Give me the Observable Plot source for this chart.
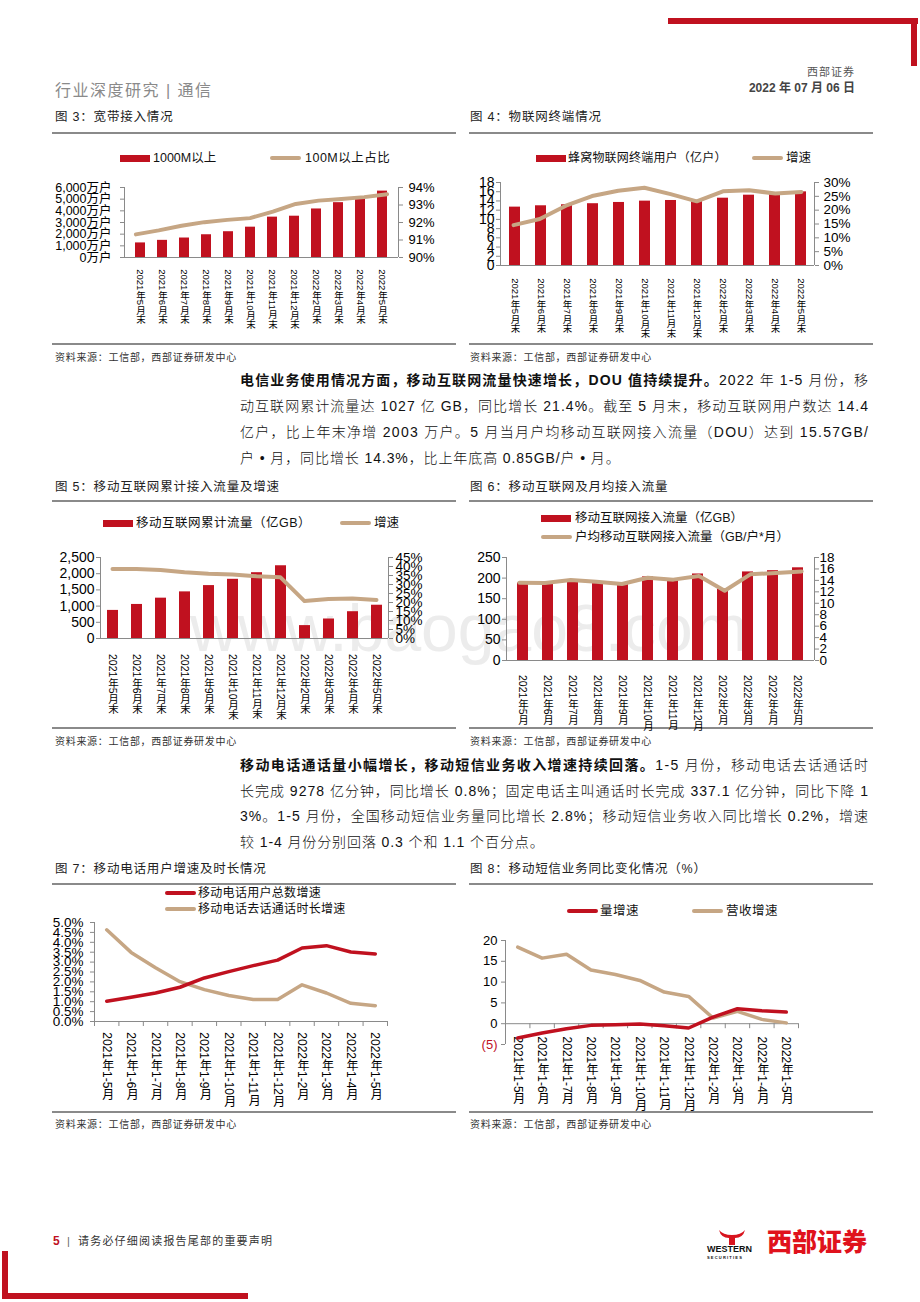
<!DOCTYPE html>
<html><head><meta charset="utf-8">
<script src="https://cdn.jsdelivr.net/npm/d3@7"></script>
<script src="https://cdn.jsdelivr.net/npm/@observablehq/plot@0.6"></script>
<style>
body{margin:0;background:#fff;}
#page{position:relative;width:920px;height:1302px;overflow:hidden;background:#fff;font-family:"Liberation Sans",Arial,"Noto Sans CJK SC",sans-serif;color:#111;}
.para{position:absolute;left:240px;font-size:14px;line-height:20px;white-space:nowrap;color:#111;font-weight:300;}
.para b{font-weight:700;}
</style></head>
<body><div id="page"></div>
<script>
// ---------------- data ----------------
const monthsEnd = ["2021年5月末","2021年6月末","2021年7月末","2021年8月末","2021年9月末","2021年10月末","2021年11月末","2021年12月末","2022年2月末","2022年3月末","2022年4月末","2022年5月末"];
const months = ["2021年5月","2021年6月","2021年7月","2021年8月","2021年9月","2021年10月","2021年11月","2021年12月","2022年2月","2022年3月","2022年4月","2022年5月"];
const periods = ["2021年1-5月","2021年1-6月","2021年1-7月","2021年1-8月","2021年1-9月","2021年1-10月","2021年1-11月","2021年1-12月","2022年1-2月","2022年1-3月","2022年1-4月","2022年1-5月"];

const gigabitUsers = [1250,1470,1670,1950,2210,2600,3460,3540,4160,4700,5160,5690];   // 万户
const share100M    = [91.32,91.55,91.81,92.02,92.15,92.25,92.62,93.06,93.25,93.34,93.45,93.62]; // %
const iotUsers     = [12.66,12.95,13.17,13.4,13.67,13.96,14.1,13.9,14.6,15.25,15.6,15.97]; // 亿户
const iotGrowth    = [14.6,16.8,21.6,25.1,27.0,28.1,25.8,23.2,26.8,27.2,26.0,26.6]; // %
const cumTraffic   = [867,1051,1245,1439,1633,1827,2031,2245,398,602,827,1027]; // 亿GB
const cumGrowth    = [38.6,38.6,38.0,36.8,36.0,35.5,34.6,34.0,20.8,21.9,22.2,21.4]; // %
const monthTraffic = [188,188,195,191,185,203,198,210,173,215,218,225]; // 亿GB
const dou          = [13.6,13.55,14.07,13.78,13.37,14.47,14.13,14.77,12.2,15.06,15.29,15.57]; // GB/户*月
const subsGrowth   = [1.02,1.22,1.44,1.73,2.2,2.52,2.82,3.1,3.71,3.83,3.51,3.41]; // %
const callGrowth   = [4.63,3.49,2.72,2.01,1.61,1.31,1.11,1.11,1.85,1.44,0.92,0.8]; // %
const smsVolume    = [-3.44,-2.24,-1.2,-0.4,-0.24,-0.08,-0.48,-1.04,1.6,3.6,3.1,2.8]; // %
const smsRevenue   = [18.4,15.76,16.7,12.9,11.84,10.4,7.6,6.56,1.36,2.96,1.04,0.2]; // %

const ticksUsers = [0,1000,2000,3000,4000,5000,6000];
const ticksShare = [90,91,92,93,94];
const ticksIot = [0,2,4,6,8,10,12,14,16,18];
const ticksIotG = [0,5,10,15,20,25,30];
const ticksCum = [0,500,1000,1500,2000,2500];
const ticksCumG = [0,5,10,15,20,25,30,35,40,45];
const ticksMonth = [0,50,100,150,200,250];
const ticksDou = [0,2,4,6,8,10,12,14,16,18];
const ticksPhone = [0,0.5,1,1.5,2,2.5,3,3.5,4,4.5,5];
const ticksSms = [0,5,10,15,20];
const ticksSmsNeg = [-5];

// ---------------- helpers ----------------
const RED = "#C0111F", TAN = "#C6A684", AXIS = "#8a8a8a";
const FONT = '"Liberation Sans", Arial, "Noto Sans CJK SC", sans-serif';
const page = document.getElementById("page");
function el(tag, css, html){ const e=document.createElement(tag); Object.assign(e.style, css); if(html!=null) e.innerHTML=html; page.appendChild(e); return e; }
function text(x, y, s, o={}){
  const size=o.size||12;
  const css={position:"absolute",top:(y-size*0.75)+"px",lineHeight:(size*1.5)+"px",fontSize:size+"px",color:o.color||"#111",
    fontWeight:o.weight||400,whiteSpace:"nowrap",letterSpacing:(o.ls||0)+"px",fontFamily:FONT};
  if(o.right) css.right=(920-x)+"px"; else css.left=x+"px";
  return el("div",css,s);
}
function rect(x1,y1,x2,y2,color,r){ return el("div",{position:"absolute",left:x1+"px",top:y1+"px",width:(x2-x1)+"px",height:(y2-y1)+"px",background:color,borderRadius:(r||0)+"px"}); }
function place(svg,left,top,z){ svg.style.position="absolute"; svg.style.left=left+"px"; svg.style.top=top+"px"; svg.style.zIndex=z||1; page.appendChild(svg); }
function vertical(svg, sel){
  svg.querySelectorAll(sel).forEach(g=>{
    g.removeAttribute("dy"); g.setAttribute("text-anchor","start");
    g.querySelectorAll("text").forEach(t=>{ t.removeAttribute("dy"); t.setAttribute("text-anchor","start");
      t.style.writingMode="vertical-rl"; t.style.textOrientation="mixed"; t.setAttribute("glyph-orientation-vertical","auto"); });
  });
}
function barSwatch(x,y){ rect(x,y-3.5,x+30,y+3.5,RED); }
function lineSwatch(x,y,c){ rect(x,y-2,x+31,y+2,c,2); }

// ---------------- page decoration ----------------
rect(668,18,918,24,RED);
rect(911,18,917,66,RED);
text(855,72,"西部证券",{size:11,color:"#555",right:true,ls:1});
text(855,88,"2022 年 07 月 06 日",{size:12,color:"#444",weight:700,right:true});
text(55,91,"行业深度研究 | 通信",{size:16,color:"#8a8a8a",ls:1.5});

// watermark
el("div",{position:"absolute",left:"190px",top:"588px",fontSize:"66px",lineHeight:"80px",color:"#ececec",fontFamily:FONT,zIndex:0,whiteSpace:"nowrap"},"www.baogao8.com");

// titles + rules + sources
[[55,117,"图 3：宽带接入情况"],[470,117,"图 4：物联网终端情况"],
 [55,487,"图 5：移动互联网累计接入流量及增速"],[470,487,"图 6：移动互联网及月均接入流量"],
 [55,869,"图 7：移动电话用户增速及时长情况"],[470,869,"图 8：移动短信业务同比变化情况（%）"]]
 .forEach(([x,y,s])=>text(x,y,s,{size:12.5,color:"#222",ls:0.8}));
[132,500,883,343,727,1111].forEach(y=>{ rect(52,y,456,y+1.5,"#8a8a8a"); rect(469,y,873,y+1.5,"#8a8a8a"); });
[357,741,1124].forEach(y=>{ text(55,y,"资料来源：工信部，西部证券研发中心",{size:10,color:"#333",ls:0.7}); text(470,y,"资料来源：工信部，西部证券研发中心",{size:10,color:"#333",ls:0.7}); });

// paragraphs (each line justified to 628px through letter spacing)
const p1 = [
 '<b>电信业务使用情况方面，移动互联网流量快速增长，DOU 值持续提升。</b>2022 年 1-5 月份，移',
 '动互联网累计流量达 1027 亿 GB，同比增长 21.4%。截至 5 月末，移动互联网用户数达 14.4',
 '亿户，比上年末净增 2003 万户。5 月当月户均移动互联网接入流量（DOU）达到 15.57GB/',
 '户 • 月，同比增长 14.3%，比上年底高 0.85GB/户 • 月。'];
const p2 = [
 '<b>移动电话通话量小幅增长，移动短信业务收入增速持续回落。</b>1-5 月份，移动电话去话通话时',
 '长完成 9278 亿分钟，同比增长 0.8%；固定电话主叫通话时长完成 337.1 亿分钟，同比下降 1',
 '3%。1-5 月份，全国移动短信业务量同比增长 2.8%；移动短信业务收入同比增长 0.2%，增速',
 '较 1-4 月份分别回落 0.3 个和 1.1 个百分点。'];
function paraLine(s, y, justify, extraLs){
  const d=el("div",{top:(y-10)+"px"},"<span>"+s+"</span>"); d.className="para";
  const sp=d.firstChild;
  if(justify){
    const w=sp.getBoundingClientRect().width, n=sp.textContent.length;
    d.style.letterSpacing=((628-w)/(n-1))+"px";
  } else d.style.letterSpacing=extraLs+"px";
}
let lsP1=0, lsP2=0;
p1.forEach((s,i)=>paraLine(s,380+26*i,i<3,0.9));
p2.forEach((s,i)=>paraLine(s,765+25.5*i,i<3,0.9));

// footer
text(53,1241,"5",{size:12,color:RED,weight:700});
text(67,1241,"|",{size:11,color:"#666"});
text(78,1241,"请务必仔细阅读报告尾部的重要声明",{size:11,color:"#333",ls:1.2});
rect(2,1251,8,1299,RED);
rect(2,1293,248,1299,RED);
el("div",{position:"absolute",left:"717px",top:"1229px",width:"30px",height:"16px"},
 '<svg width="30" height="16" viewBox="0 0 30 16"><path d="M2 1 Q4 9 12 9 L12 16 L18 16 L18 9 Q26 9 28 1 Q24 6 15 6 Q6 6 2 1Z" fill="#D8141E"/></svg>');
text(707,1250,"WESTERN",{size:9,color:"#111",weight:700});
text(707,1258,"SECURITIES",{size:4,color:"#111",weight:700,ls:1.2});
text(767,1243,"西部证券",{size:25,color:"#E0121C",weight:900});

// legends
barSwatch(120,158); text(153,158,"1000M以上",{size:12.5});
lineSwatch(270,158,TAN); text(305,158,"100M以上占比",{size:12.5,ls:0.5});
barSwatch(536,158); text(568,158,"蜂窝物联网终端用户（亿户）",{size:12,ls:0.2});
lineSwatch(752,158,TAN); text(786,158,"增速",{size:12.5});
barSwatch(103,523); text(136,523,"移动互联网累计流量（亿GB）",{size:12.5,ls:0.5});
lineSwatch(340,523,TAN); text(374,523,"增速",{size:12.5});
barSwatch(541,518); text(575,518,"移动互联网接入流量（亿GB）",{size:12.5});
lineSwatch(541,537,TAN); text(575,537,"户均移动互联网接入流量（GB/户*月）",{size:12.5});
lineSwatch(165,893,RED); text(198,893,"移动电话用户总数增速",{size:12,ls:0.3});
lineSwatch(165,909,TAN); text(198,909,"移动电话去话通话时长增速",{size:12,ls:0.3});
lineSwatch(567,911,RED); text(600,911,"量增速",{size:12.5,ls:0.5});
lineSwatch(692,911,TAN); text(726,911,"营收增速",{size:12.5,ls:0.5});

// ---------------- charts ----------------
function dualChart(c){
  const n=c.cats.length;
  const common={width:c.width,height:c.height,marginTop:c.mt,marginBottom:c.mb,marginLeft:c.ml,marginRight:c.mr,
    style:{background:"transparent",fontFamily:FONT,overflow:"visible",color:"#000"}};
  const barRows=c.cats.map((k,i)=>({k,v:c.bars[i]}));
  const lineRows=c.cats.map((k,i)=>({i,v:c.line[i]}));
  const bars=Plot.plot({...common,
    x:{type:"band",domain:c.cats,paddingInner:c.pad,paddingOuter:c.pad/2},
    y:{domain:c.yL},
    marks:[
      Plot.barY(barRows,{x:"k",y:"v",fill:RED}),
      Plot.ruleY([c.yL[0]],{stroke:AXIS}),
      Plot.axisY({ticks:c.ticksL,tickFormat:c.fmtL,tickSize:4,tickPadding:c.padL,stroke:AXIS,fill:"#000",fontSize:c.fontL,label:null}),
      Plot.axisX({tickSize:0,tickPadding:c.padX,fill:"#000",fontSize:c.fontX,label:null})
    ]});
  vertical(bars,'g[aria-label="x-axis tick label"]');
  place(bars,c.left,c.top,1);
  const lines=Plot.plot({...common,
    x:{domain:[-0.5,n-0.5],axis:null},
    y:{domain:c.yR},
    marks:[
      Plot.ruleX([-0.5,n-0.5],{stroke:AXIS}),
      Plot.axisY({anchor:"right",ticks:c.ticksR,tickFormat:c.fmtR,tickSize:4,tickPadding:c.padR,stroke:AXIS,fill:"#000",fontSize:c.fontR,label:null}),
      Plot.line(lineRows,{x:"i",y:"v",stroke:TAN,strokeWidth:4,strokeLinejoin:"round",strokeLinecap:"round"})
    ]});
  place(lines,c.left,c.top,2);
}
const pct=d=>d+"%";
dualChart({left:50,top:177,width:410,height:150,mt:10,mb:70,ml:74,mr:62,cats:monthsEnd,bars:gigabitUsers,line:share100M,
  yL:[0,6000],yR:[90,94],ticksL:ticksUsers,ticksR:ticksShare,fmtL:d=>d3.format(",")(d)+"万户",fmtR:pct,fontL:12.5,fontR:13,fontX:9.5,pad:0.55,padX:5,padL:9,padR:6});
dualChart({left:465,top:172,width:410,height:163,mt:10,mb:70,ml:35,mr:61,cats:monthsEnd,bars:iotUsers,line:iotGrowth,
  yL:[0,18],yR:[0,30],ticksL:ticksIot,ticksR:ticksIotG,fmtL:d=>d,fmtR:pct,fontL:14,fontR:13.5,fontX:9.5,pad:0.59,padX:6,padL:2,padR:5});
dualChart({left:50,top:547,width:410,height:170,mt:10,mb:79,ml:50,mr:72,cats:monthsEnd,bars:cumTraffic,line:cumGrowth,
  yL:[0,2500],yR:[0,45],ticksL:ticksCum,ticksR:ticksCumG,fmtL:d3.format(","),fmtR:pct,fontL:14,fontR:13.5,fontX:10.5,pad:0.55,padX:8,padL:2,padR:3});
dualChart({left:465,top:547,width:410,height:178,mt:10,mb:65,ml:41,mr:61,cats:months,bars:monthTraffic,line:dou,
  yL:[0,250],yR:[0,18],ticksL:ticksMonth,ticksR:ticksDou,fmtL:d=>d,fmtR:d=>d,fontL:14,fontR:13.5,fontX:10.5,pad:0.55,padX:7,padL:2,padR:1});

// chart 7
(function(){
  const n=periods.length;
  const rowsA=periods.map((p,i)=>({i,v:subsGrowth[i]}));
  const rowsB=periods.map((p,i)=>({i,v:callGrowth[i]}));
  const svg=Plot.plot({width:410,height:198,marginTop:10,marginBottom:89,marginLeft:44,marginRight:73,
    style:{background:"transparent",fontFamily:FONT,overflow:"visible",color:"#000"},
    x:{domain:[-0.5,n-0.5],axis:null}, y:{domain:[0,5]},
    marks:[
      Plot.ruleX([-0.5],{stroke:AXIS}),
      Plot.ruleY([0],{stroke:AXIS}),
      Plot.ruleX(d3.range(-0.5,n,1),{y1:0,y2:0,insetBottom:-5,stroke:AXIS}),
      Plot.axisY({ticks:ticksPhone,tickFormat:d=>d.toFixed(1)+"%",tickSize:4,tickPadding:7,stroke:AXIS,fill:"#000",fontSize:13.5,label:null}),
      Plot.text(periods,{x:(d,i)=>i,y:0,text:d=>d,dy:7,fontSize:12,fill:"#000"}),
      Plot.line(rowsB,{x:"i",y:"v",stroke:TAN,strokeWidth:3.5,strokeLinejoin:"round",strokeLinecap:"round"}),
      Plot.line(rowsA,{x:"i",y:"v",stroke:RED,strokeWidth:3.5,strokeLinejoin:"round",strokeLinecap:"round"})
    ]});
  vertical(svg,'g[aria-label="text"]');
  place(svg,50,912,2);
})();

// chart 8
(function(){
  const n=periods.length;
  const rowsA=periods.map((p,i)=>({i,v:smsVolume[i]}));
  const rowsB=periods.map((p,i)=>({i,v:smsRevenue[i]}));
  const svg=Plot.plot({width:410,height:180,marginTop:10,marginBottom:66,marginLeft:40,marginRight:77,
    style:{background:"transparent",fontFamily:FONT,overflow:"visible",color:"#000"},
    x:{domain:[-0.5,n-0.5],axis:null}, y:{domain:[-5,20]},
    marks:[
      Plot.ruleX([-0.5],{stroke:AXIS}),
      Plot.ruleY([0],{stroke:AXIS}),
      Plot.ruleX(d3.range(-0.5,n,1),{y1:0,y2:0,insetBottom:-5,stroke:AXIS}),
      Plot.axisY({ticks:ticksSms,tickFormat:d=>d,tickSize:4,tickPadding:4,stroke:AXIS,fill:"#000",fontSize:13,label:null}),
      Plot.axisY({ticks:ticksSmsNeg,tickFormat:d=>"("+(-d)+")",tickSize:4,tickPadding:4,stroke:AXIS,fill:RED,fontSize:13,label:null}),
      Plot.text(periods,{x:(d,i)=>i,y:0,text:d=>d,dy:9,fontSize:12,fill:"#000"}),
      Plot.line(rowsB,{x:"i",y:"v",stroke:TAN,strokeWidth:3.5,strokeLinejoin:"round",strokeLinecap:"round"}),
      Plot.line(rowsA,{x:"i",y:"v",stroke:RED,strokeWidth:3.5,strokeLinejoin:"round",strokeLinecap:"round"})
    ]});
  vertical(svg,'g[aria-label="text"]');
  place(svg,465,930,2);
})();
</script>
</body></html>
